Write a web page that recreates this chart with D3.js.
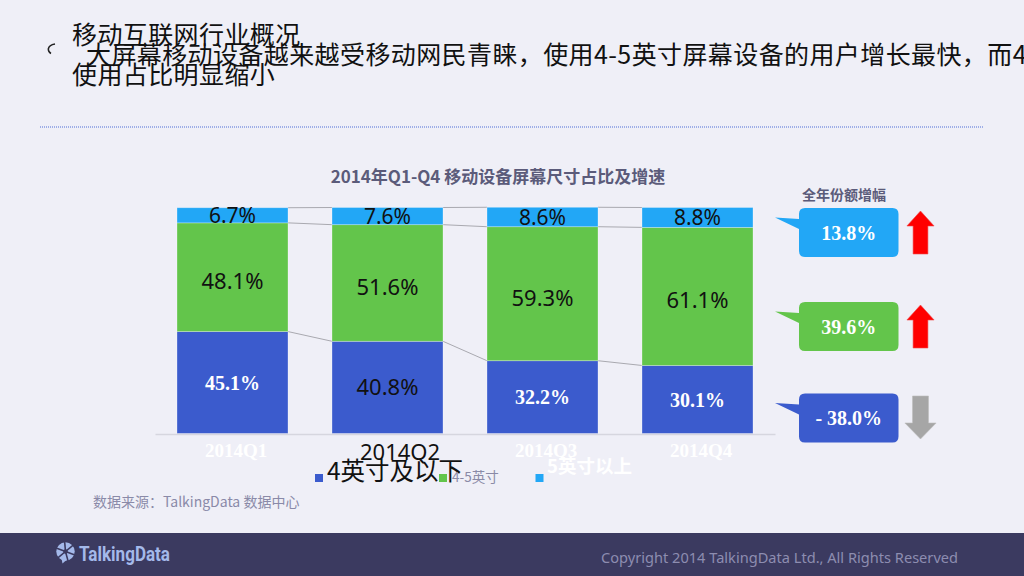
<!DOCTYPE html>
<html>
<head>
<meta charset="utf-8">
<script src="https://cdn.jsdelivr.net/npm/d3@7"></script>
<style>
  html, body { margin: 0; padding: 0; background: #efeff7; }
  svg { display: block; }
</style>
</head>
<body>
<svg id="chart" width="1024" height="576"></svg>
<script>
  // ---- data ----
  const quarters = ["2014Q1", "2014Q2", "2014Q3", "2014Q4"];
  const seriesKeys = ["small", "mid", "large"];
  const seriesNames = ["4英寸及以下", "4-5英寸", "5英寸以上"];
  const smallShare = [45.1, 40.8, 32.2, 30.1];
  const midShare = [48.1, 51.6, 59.3, 61.1];
  const largeShare = [6.7, 7.6, 8.6, 8.8];
  const yearGrowth = [-38.0, 39.6, 13.8]; // per series, same order as seriesKeys

  const headerLines = [
    "移动互联网行业概况",
    "大屏幕移动设备越来越受移动网民青睐，使用4-5英寸屏幕设备的用户增长最快，而4",
    "使用占比明显缩小"
  ];

  // ---- look ----
  const COLORS = { small: "#3b5bcd", mid: "#63c54b", large: "#22a7f6" };
  const CJK = '"Noto Sans CJK SC", "Noto Sans", sans-serif';
  const SANS = '"Noto Sans", "Noto Sans CJK SC", sans-serif';
  const SERIF = '"Liberation Serif", "DejaVu Serif", "Noto Sans CJK SC", serif';
  // labels that came out as white bold serif in the original slide
  const SERIF_LABELS = new Set(["small|2014Q1", "small|2014Q3", "small|2014Q4"]);
  const SERIF_TICKS = new Set(["2014Q1", "2014Q3", "2014Q4"]);

  const svg = d3.select("#chart");

  // footer band
  svg.append("rect").attr("x", 0).attr("y", 533).attr("width", 1024).attr("height", 43).attr("fill", "#3b3a60");

  // ---- header ----
  svg.append("path")
    .attr("d", "M55,44 Q49,45 48.3,49 Q48.3,52 51,53.5")
    .attr("fill", "none").attr("stroke", "#222").attr("stroke-width", 1.5);

  const headerPos = [[72, 44], [86, 64], [72, 84]];
  svg.append("g").selectAll("text")
    .data(headerLines)
    .join("text")
    .attr("x", (d, i) => headerPos[i][0])
    .attr("y", (d, i) => headerPos[i][1])
    .attr("font-family", CJK)
    .attr("font-size", 25)
    .attr("letter-spacing", 0.4)
    .attr("fill", "#111")
    .text((d) => d);

  svg.append("line")
    .attr("x1", 40).attr("x2", 984).attr("y1", 127).attr("y2", 127)
    .attr("stroke", "#4f6fd8").attr("stroke-width", 1.2).attr("stroke-dasharray", "1 1");

  // ---- chart title ----
  svg.append("text")
    .attr("x", 498).attr("y", 183)
    .attr("text-anchor", "middle")
    .attr("font-family", CJK).attr("font-weight", "bold").attr("font-size", 17)
    .attr("fill", "#5b5b7a")
    .text("2014年Q1-Q4 移动设备屏幕尺寸占比及增速");

  // ---- stacked bars ----
  const rows = quarters.map((q, i) => ({
    q, small: smallShare[i], mid: midShare[i], large: largeShare[i]
  }));
  const stacked = d3.stack().keys(seriesKeys)(rows);

  const x = d3.scaleBand().domain(quarters).range([155, 775]).paddingInner(0.284).paddingOuter(0.142);
  const y = d3.scaleLinear().domain([0, 100]).range([433.5, 207.5]);
  const bw = x.bandwidth();

  // series connector lines
  const links = [];
  stacked.forEach((s) => {
    for (let i = 0; i < s.length - 1; i++) {
      links.push({
        x1: x(quarters[i]) + bw, y1: y(s[i][1]),
        x2: x(quarters[i + 1]), y2: y(s[i + 1][1])
      });
    }
  });
  svg.append("g").selectAll("line")
    .data(links)
    .join("line")
    .attr("x1", (d) => d.x1).attr("y1", (d) => d.y1)
    .attr("x2", (d) => d.x2).attr("y2", (d) => d.y2)
    .attr("stroke", "#a9a9b0").attr("stroke-width", 1);

  const layer = svg.append("g").selectAll("g")
    .data(stacked)
    .join("g")
    .attr("fill", (s) => COLORS[s.key]);

  layer.selectAll("rect")
    .data((s) => s.map((d) => Object.assign(d, { key: s.key })))
    .join("rect")
    .attr("x", (d) => x(d.data.q))
    .attr("y", (d) => y(d[1]))
    .attr("width", bw)
    .attr("height", (d) => y(d[0]) - y(d[1]))
    .attr("stroke", "rgba(255,255,255,0.35)")
    .attr("stroke-width", 0.8);

  // value labels
  layer.selectAll("text")
    .data((s) => s)
    .join("text")
    .each(function (d) {
      const serif = SERIF_LABELS.has(d.key + "|" + d.data.q);
      const el = d3.select(this)
        .attr("x", x(d.data.q) + bw / 2)
        .attr("y", (y(d[0]) + y(d[1])) / 2 + (d.key === "mid" ? 4 : 0))
        .attr("dy", "0.36em")
        .attr("text-anchor", "middle")
        .text(d.data[d.key].toFixed(1) + "%");
      if (serif) {
        el.attr("font-family", SERIF).attr("font-weight", "bold").attr("font-size", 20).attr("fill", "#fff");
      } else {
        el.attr("font-family", SANS).attr("font-size", d.key === "large" ? 21 : 22).attr("fill", "#111");
      }
    });

  // ---- x axis ----
  const axis = svg.append("g")
    .attr("transform", "translate(0,434)")
    .call(d3.axisBottom(x).tickSize(0).tickPadding(0));
  axis.select(".domain").attr("stroke", "#d6d6df").attr("stroke-width", 1.6);
  axis.selectAll(".tick text")
    .attr("text-anchor", "start")
    .attr("x", -bw / 2 + 28)
    .attr("dy", null)
    .attr("y", (d) => (SERIF_TICKS.has(d) ? 22.5 : 26))
    .attr("font-family", (d) => (SERIF_TICKS.has(d) ? SERIF : SANS))
    .attr("font-weight", (d) => (SERIF_TICKS.has(d) ? "bold" : "normal"))
    .attr("font-size", (d) => (SERIF_TICKS.has(d) ? 19 : 22))
    .attr("fill", (d) => (SERIF_TICKS.has(d) ? "#fff" : "#111"));

  // ---- legend ----
  const LEGEND = [
    { sx: 315, tx: 327, ty: 480, size: 24.5, weight: "normal", fill: "#111" },
    { sx: 439, tx: 452, ty: 482, size: 13.5, weight: "normal", fill: "#8a8aa6" },
    { sx: 535.5, tx: 547, ty: 473, size: 18.5, weight: "bold", fill: "#fff" }
  ];
  const leg = svg.append("g").selectAll("g")
    .data(seriesKeys)
    .join("g");
  leg.append("rect")
    .attr("x", (d, i) => LEGEND[i].sx).attr("y", 474)
    .attr("width", 8).attr("height", 8)
    .attr("fill", (d) => COLORS[d]);
  leg.append("text")
    .attr("x", (d, i) => LEGEND[i].tx).attr("y", (d, i) => LEGEND[i].ty)
    .attr("font-family", CJK)
    .attr("font-size", (d, i) => LEGEND[i].size)
    .attr("font-weight", (d, i) => LEGEND[i].weight)
    .attr("fill", (d, i) => LEGEND[i].fill)
    .text((d, i) => seriesNames[i]);

  // ---- source ----
  svg.append("text")
    .attr("x", 93).attr("y", 506.5)
    .attr("font-family", CJK).attr("font-size", 14).attr("fill", "#8a8aa8")
    .text("数据来源：TalkingData 数据中心");

  // ---- full-year growth callouts ----
  svg.append("text")
    .attr("x", 802).attr("y", 200)
    .attr("font-family", CJK).attr("font-weight", "bold").attr("font-size", 14)
    .attr("fill", "#5b5b7a")
    .text("全年份额增幅");

  const CALLOUT_Y = { small: 393.5, mid: 302, large: 208 };
  const CX = 799, CW = 99.5, CH = 49, CR = 6;

  function calloutPath(x0, y0) {
    const r = CR, w = CW, h = CH;
    const tipX = x0 - 24, tipY = y0 + 9.5;
    return `M${x0 + r},${y0} H${x0 + w - r} Q${x0 + w},${y0} ${x0 + w},${y0 + r}` +
      ` V${y0 + h - r} Q${x0 + w},${y0 + h} ${x0 + w - r},${y0 + h}` +
      ` H${x0 + r} Q${x0},${y0 + h} ${x0},${y0 + h - r}` +
      ` V${y0 + 21} L${tipX},${tipY} L${x0},${y0 + 11} V${y0 + r} Q${x0},${y0} ${x0 + r},${y0} Z`;
  }

  function arrowPath(cx, cy, up) {
    const hw = 13.6, sw = 7.4, half = 21.5, head = 15;
    const t = cy - half, b = cy + half;
    if (up) {
      return `M${cx},${t} L${cx + hw},${t + head} L${cx + sw},${t + head} L${cx + sw},${b}` +
        ` L${cx - sw},${b} L${cx - sw},${t + head} L${cx - hw},${t + head} Z`;
    }
    return `M${cx},${b} L${cx + hw + 2},${b - head - 1} L${cx + sw + 0.6},${b - head - 1} L${cx + sw + 0.6},${t}` +
      ` L${cx - sw - 0.6},${t} L${cx - sw - 0.6},${b - head - 1} L${cx - hw - 2},${b - head - 1} Z`;
  }

  const callouts = svg.append("g").selectAll("g")
    .data(seriesKeys.map((k, i) => ({ key: k, value: yearGrowth[i] })))
    .join("g");

  callouts.append("path")
    .attr("d", (d) => calloutPath(CX, CALLOUT_Y[d.key]))
    .attr("fill", (d) => COLORS[d.key]);

  callouts.append("text")
    .attr("x", CX + CW / 2)
    .attr("y", (d) => CALLOUT_Y[d.key] + CH / 2)
    .attr("dy", "0.36em")
    .attr("text-anchor", "middle")
    .attr("font-family", SERIF).attr("font-weight", "bold").attr("font-size", 20)
    .attr("fill", "#fff")
    .text((d) => (d.value < 0 ? "- " + Math.abs(d.value).toFixed(1) : d.value.toFixed(1)) + "%");

  callouts.append("path")
    .attr("d", (d) => arrowPath(920.5, CALLOUT_Y[d.key] + CH / 2 + (d.value < 0 ? -0.5 : 0), d.value >= 0))
    .attr("fill", (d) => (d.value >= 0 ? "#ff0000" : "#a6a6a6"))
    .attr("stroke", (d) => (d.value >= 0 ? "#f04a4a" : "#bdbdbd"))
    .attr("stroke-width", 0.6);

  // ---- footer ----
  const logo = svg.append("g").attr("transform", "translate(65.5,551.5)");
  logo.append("circle").attr("r", 9.2).attr("fill", "#a4b9ea");
  logo.append("path").attr("d", "M-4,7 L-3,12 L1,8.5 Z").attr("fill", "#a4b9ea");
  logo.selectAll("line.spoke")
    .data([20, 75, 140, 200, 265, 320])
    .join("line")
    .attr("class", "spoke")
    .attr("x1", 0).attr("y1", 0)
    .attr("x2", (a) => 10 * Math.cos((a * Math.PI) / 180))
    .attr("y2", (a) => 10 * Math.sin((a * Math.PI) / 180))
    .attr("stroke", "#3b3a60").attr("stroke-width", 1.6);
  logo.append("circle").attr("r", 2.2).attr("fill", "#3b3a60");

  svg.append("text")
    .attr("x", 79).attr("y", 560.5)
    .attr("font-family", "Roboto, 'Noto Sans', sans-serif").attr("font-weight", "bold").attr("font-size", 21)
    .attr("textLength", 91).attr("lengthAdjust", "spacingAndGlyphs")
    .attr("fill", "#a4b9ea")
    .text("TalkingData");

  svg.append("text")
    .attr("x", 601).attr("y", 562.5)
    .attr("font-family", SANS).attr("font-size", 14)
    .attr("textLength", 357).attr("lengthAdjust", "spacingAndGlyphs")
    .attr("fill", "#8d8db0")
    .text("Copyright 2014 TalkingData Ltd., All Rights Reserved");
</script>
</body>
</html>
